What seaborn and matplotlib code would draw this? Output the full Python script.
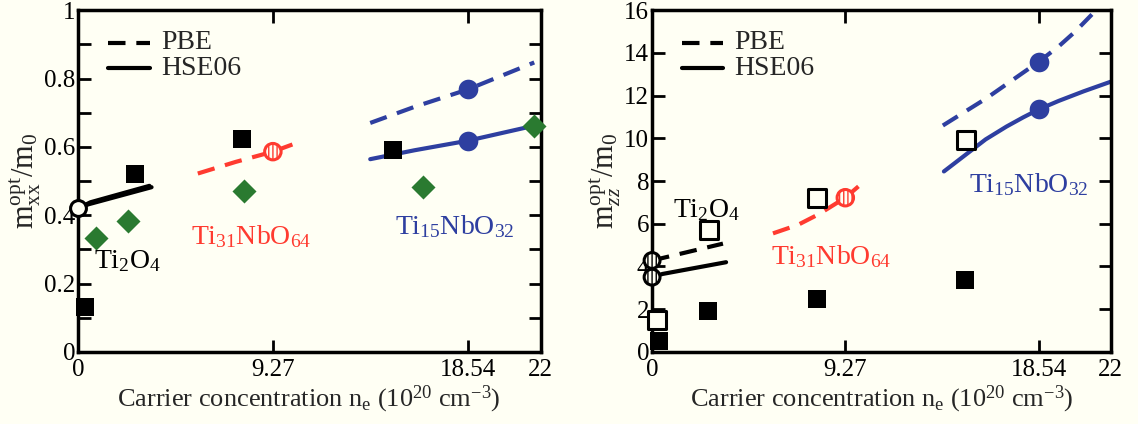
import numpy as np
import pandas as pd
import matplotlib
matplotlib.use("Agg")
import matplotlib.pyplot as plt
import seaborn as sns
from matplotlib.ticker import MultipleLocator

# ---------------- data: left panel (m_xx) ----------------
xx_sq_x = [0.33, 2.7, 7.8, 15.0]
xx_sq_y = [0.13, 0.52, 0.622, 0.592]
xx_dia_x = [0.86, 2.4, 7.9, 16.4, 21.7]
xx_dia_y = [0.334, 0.384, 0.472, 0.482, 0.662]
xx_ti2_circ_x = [0.0]
xx_ti2_circ_y = [0.42]
xx_ti2_hse_x = [0.0, 0.5, 3.5]
xx_ti2_hse_y = [0.42, 0.432, 0.482]
xx_ti2_pbe_x = [0.0, 0.6, 3.4]
xx_ti2_pbe_y = [0.42, 0.438, 0.486]
xx_ti31_pbe_x = [5.7, 7.5, 9.27, 10.2]
xx_ti31_pbe_y = [0.522, 0.556, 0.586, 0.607]
xx_ti31_circ_x = [9.27]
xx_ti31_circ_y = [0.586]
xx_ti15_pbe_x = [13.9, 16.0, 18.54, 21.7]
xx_ti15_pbe_y = [0.670, 0.717, 0.768, 0.847]
xx_ti15_hse_x = [13.9, 16.0, 18.54, 21.7]
xx_ti15_hse_y = [0.564, 0.590, 0.618, 0.662]
xx_ti15_circ_x = [18.54, 18.54]
xx_ti15_circ_y = [0.768, 0.618]

# ---------------- data: right panel (m_zz) ----------------
zz_sq_x = [0.34, 2.7, 7.9, 15.0]
zz_sq_y = [0.51, 1.9, 2.46, 3.35]
zz_osq_x = [0.24, 2.73, 7.9, 15.05]
zz_osq_y = [1.49, 5.72, 7.22, 9.9]
zz_ti2_circ_x = [0.0, 0.0]
zz_ti2_circ_y = [4.28, 3.5]
zz_ti2_pbe_x = [0.0, 3.4]
zz_ti2_pbe_y = [4.28, 5.07]
zz_ti2_hse_x = [0.0, 0.5, 3.55]
zz_ti2_hse_y = [3.5, 3.65, 4.2]
zz_ti31_pbe_x = [5.8, 7.0, 8.0, 9.27, 9.9]
zz_ti31_pbe_y = [5.55, 5.95, 6.45, 7.22, 7.75]
zz_ti31_circ_x = [9.27]
zz_ti31_circ_y = [7.22]
zz_ti15_pbe_x = [13.95, 16.0, 18.54, 19.5, 20.3, 21.1]
zz_ti15_pbe_y = [10.6, 11.85, 13.58, 14.3, 15.0, 15.8]
zz_ti15_hse_x = [14.0, 15.0, 16.0, 17.0, 17.8, 18.54, 19.5, 20.7, 22.0]
zz_ti15_hse_y = [8.45, 9.2, 9.95, 10.55, 10.98, 11.35, 11.75, 12.2, 12.65]
zz_ti15_circ_x = [18.54, 18.54]
zz_ti15_circ_y = [13.58, 11.35]

xticks = [0, 9.27, 18.54, 22]
xtick_labels = ["0", "9.27", "18.54", "22"]

BLUE = "#2e3fa0"
RED = "#ff3b30"
GREEN = "#2a7a30"
BG = "#fffff4"

sns.set_theme(style="ticks")
plt.rcParams["font.family"] = ["Liberation Serif", "DejaVu Serif"]
plt.rcParams["mathtext.fontset"] = "custom"
plt.rcParams["mathtext.rm"] = "Liberation Serif"
plt.rcParams["mathtext.it"] = "Liberation Serif:italic"
plt.rcParams["mathtext.bf"] = "Liberation Serif:bold"
plt.rcParams["axes.facecolor"] = BG
plt.rcParams["figure.facecolor"] = BG

fig = plt.figure(figsize=(11.38, 4.24), dpi=100)
axL = fig.add_axes([0.0685, 0.17, 0.4065, 0.806])
axR = fig.add_axes([0.573, 0.17, 0.403, 0.806])

DASH = (0, (4.2, 2.6))


def line(ax, x, y, color, dashed, lw=3):
    df = pd.DataFrame({"x": x, "y": y})
    sns.lineplot(data=df, x="x", y="y", ax=ax, color=color, lw=lw,
                 linestyle=DASH if dashed else "-", sort=False,
                 estimator=None)


def pts(ax, x, y, marker, s, face, edge, lw=0, hatch=None, z=3):
    df = pd.DataFrame({"x": x, "y": y})
    sns.scatterplot(data=df, x="x", y="y", ax=ax, marker=marker, s=s,
                    facecolor=face, edgecolor=edge, linewidth=lw,
                    hatch=hatch, zorder=z, clip_on=False)


# ---- left panel ----
line(axL, xx_ti2_pbe_x, xx_ti2_pbe_y, "black", False)
line(axL, xx_ti2_hse_x, xx_ti2_hse_y, "black", False)
line(axL, xx_ti31_pbe_x, xx_ti31_pbe_y, RED, True)
line(axL, xx_ti15_pbe_x, xx_ti15_pbe_y, BLUE, True)
line(axL, xx_ti15_hse_x, xx_ti15_hse_y, BLUE, False)
pts(axL, xx_sq_x, xx_sq_y, "s", 170, "black", "black")
pts(axL, xx_dia_x, xx_dia_y, "D", 150, GREEN, GREEN)
pts(axL, xx_ti15_circ_x, xx_ti15_circ_y, "o", 200, BLUE, BLUE)
pts(axL, xx_ti2_circ_x, xx_ti2_circ_y, "o", 130, BG, "black", lw=2.2, z=4)
pts(axL, xx_ti31_circ_x, xx_ti31_circ_y, "o", 140, BG, RED, lw=2.2, hatch="||||", z=4)

axL.set_ylim(0, 1)
axL.set_ylabel(r"m$^{\mathrm{opt}}_{\mathrm{xx}}$/m$_0$", fontsize=22, labelpad=1)
axL.text(0.75, 0.245, r"Ti$_2$O$_4$", fontsize=20, color="black")
axL.text(5.4, 0.315, r"Ti$_{31}$NbO$_{64}$", fontsize=20, color=RED)
axL.text(15.1, 0.345, r"Ti$_{15}$NbO$_{32}$", fontsize=20, color=BLUE)
axL.set_yticks([0, 0.2, 0.4, 0.6, 0.8, 1.0], ["0", "0.2", "0.4", "0.6", "0.8", "1"])
axL.yaxis.set_minor_locator(MultipleLocator(0.1))

# ---- right panel ----
line(axR, zz_ti2_pbe_x, zz_ti2_pbe_y, "black", True)
line(axR, zz_ti2_hse_x, zz_ti2_hse_y, "black", False)
line(axR, zz_ti31_pbe_x, zz_ti31_pbe_y, RED, True)
line(axR, zz_ti15_pbe_x, zz_ti15_pbe_y, BLUE, True)
line(axR, zz_ti15_hse_x, zz_ti15_hse_y, BLUE, False)
pts(axR, zz_sq_x, zz_sq_y, "s", 150, "black", "black")
pts(axR, zz_osq_x, zz_osq_y, "s", 170, BG, "black", lw=2.2)
pts(axR, zz_ti15_circ_x, zz_ti15_circ_y, "o", 200, BLUE, BLUE)
pts(axR, zz_ti2_circ_x, zz_ti2_circ_y, "o", 130, BG, "black", lw=2.2, hatch="||||", z=4)
pts(axR, zz_ti31_circ_x, zz_ti31_circ_y, "o", 140, BG, RED, lw=2.2, hatch="||||", z=4)

axR.set_ylim(0, 16)
axR.set_ylabel(r"m$^{\mathrm{opt}}_{zz}$/m$_0$", fontsize=22, labelpad=1)
axR.text(1.0, 6.3, r"Ti$_2$O$_4$", fontsize=20, color="black")
axR.text(5.7, 4.1, r"Ti$_{31}$NbO$_{64}$", fontsize=20, color=RED)
axR.text(15.2, 7.5, r"Ti$_{15}$NbO$_{32}$", fontsize=20, color=BLUE)
axR.yaxis.set_major_locator(MultipleLocator(2))

for ax in (axL, axR):
    ax.set_xlim(0, 22)
    ax.set_xticks(xticks, xtick_labels)
    ax.set_xlabel(r"Carrier concentration n$_\mathrm{e}$ (10$^{20}$ cm$^{-3}$)", fontsize=19, labelpad=2)
    ax.tick_params(axis="both", which="both", direction="in", top=True, right=True,
                   labelsize=18, width=2, colors="black", length=9)
    ax.tick_params(axis="y", which="major", pad=2)
    ax.tick_params(axis="x", which="major", pad=5)
    for sp in ax.spines.values():
        sp.set_linewidth(2.5)
        sp.set_color("black")
        sp.set_visible(True)
    ytop = ax.get_ylim()[1]
    # legend lines
    ax.plot([1.43, 3.42], [0.905 * ytop] * 2, color="black", lw=3, linestyle=DASH)
    ax.plot([1.43, 3.42], [0.83 * ytop] * 2, color="black", lw=3)
    ax.text(3.95, 0.905 * ytop, "PBE", fontsize=20, va="center")
    ax.text(3.95, 0.83 * ytop, "HSE06", fontsize=20, va="center")

fig.savefig("out.png", dpi=100, facecolor=BG)
